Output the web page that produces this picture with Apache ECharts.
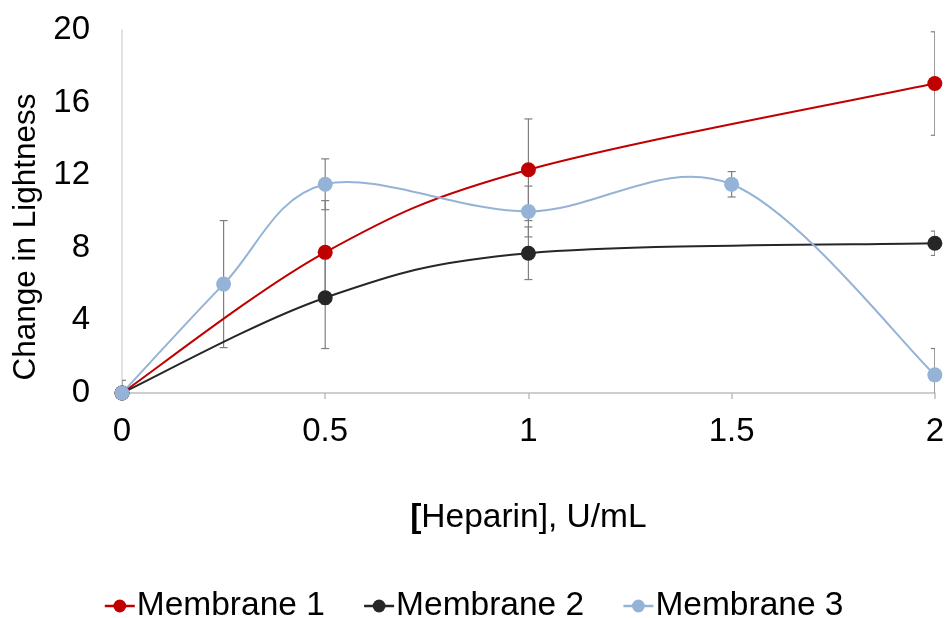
<!DOCTYPE html>
<html>
<head>
<meta charset="utf-8">
<script src="https://cdn.jsdelivr.net/npm/echarts@6/dist/echarts.min.js"></script>
<style>
  html, body { margin: 0; padding: 0; background: #fff; }
  #chart { width: 947px; height: 618px; }
</style>
</head>
<body>
<div id="chart"></div>
<script>
// Heparin concentrations (U/mL) and lightness change for each membrane
const xTicks = [0, 0.5, 1, 1.5, 2];
const yTicks = [0, 4, 8, 12, 16, 20];

const m1X = [0, 0.5, 1, 2];
const m1Y = [0, 7.75, 12.3, 17.05];
const m1Err = [0.7, 2.85, 2.8, 2.85];

const m2X = [0, 0.5, 1, 2];
const m2Y = [0, 5.25, 7.7, 8.25];
const m2Err = [0, 2.8, 1.45, 0.67];

const m3X = [0, 0.25, 0.5, 1, 1.5, 2];
const m3Y = [0, 6, 11.5, 10, 11.5, 1];
const m3Err = [0, 3.5, 1.4, 1.4, 0.7, 1.45];

const seriesNames = ['Membrane 1', 'Membrane 2', 'Membrane 3'];
const colors = ['#C00000', '#262626', '#95B3D7'];
const FONT = '"Liberation Sans", Arial, sans-serif';

const xsList = [m1X, m2X, m3X];
const ysList = [m1Y, m2Y, m3Y];
const errList = [m1Err, m2Err, m3Err];

function pairs(xs, ys) { return xs.map((x, i) => [x, ys[i]]); }
function errRows(xs, ys, es) {
  return xs.map((x, i) => [x, ys[i] - es[i], ys[i] + es[i]]).filter((r, i) => es[i] > 0);
}

// vertical error bar with caps
function renderErr(params, api) {
  const x = api.value(0);
  const lo = api.coord([x, api.value(1)]);
  const hi = api.coord([x, api.value(2)]);
  const half = 4;
  const style = { stroke: '#7f7f7f', lineWidth: 1.2 };
  return {
    type: 'group',
    children: [
      { type: 'line', shape: { x1: lo[0], y1: lo[1], x2: hi[0], y2: hi[1] }, style },
      { type: 'line', shape: { x1: hi[0] - half, y1: hi[1], x2: hi[0] + half, y2: hi[1] }, style },
      { type: 'line', shape: { x1: lo[0] - half, y1: lo[1], x2: lo[0] + half, y2: lo[1] }, style }
    ]
  };
}

// smoothed connector: cubic Bezier segments with Catmull-Rom style control points (tension 1/6)
function makeCurveRenderer(xs, ys, color) {
  return function (params, api) {
    const i = params.dataIndex;
    if (i >= xs.length - 1) return null;
    const pts = xs.map((x, k) => api.coord([x, ys[k]]));
    const p0 = pts[i - 1] || pts[i];
    const p1 = pts[i];
    const p2 = pts[i + 1];
    const p3 = pts[i + 2] || pts[i + 1];
    const f = 1 / 6;
    return {
      type: 'bezierCurve',
      shape: {
        x1: p1[0], y1: p1[1],
        x2: p2[0], y2: p2[1],
        cpx1: p1[0] + (p2[0] - p0[0]) * f, cpy1: p1[1] + (p2[1] - p0[1]) * f,
        cpx2: p2[0] - (p3[0] - p1[0]) * f, cpy2: p2[1] - (p3[1] - p1[1]) * f
      },
      style: { stroke: color, lineWidth: 2, fill: null }
    };
  };
}

const series = [];
errList.forEach((es, i) => {
  series.push({
    type: 'custom',
    renderItem: renderErr,
    data: errRows(xsList[i], ysList[i], es),
    clip: true,
    z: 1,
    silent: true,
    encode: { x: 0, y: [1, 2] }
  });
});
xsList.forEach((xs, i) => {
  series.push({
    type: 'custom',
    renderItem: makeCurveRenderer(xs, ysList[i], colors[i]),
    data: pairs(xs, ysList[i]),
    clip: true,
    z: 2,
    silent: true,
    encode: { x: 0, y: 1 }
  });
});
xsList.forEach((xs, i) => {
  series.push({
    name: seriesNames[i],
    type: 'line',
    data: pairs(xs, ysList[i]),
    symbol: 'circle',
    symbolSize: 15,
    z: 3,
    lineStyle: { color: colors[i], width: 2, opacity: 0 },
    itemStyle: { color: colors[i] }
  });
});

const chart = echarts.init(document.getElementById('chart'), null, { renderer: 'canvas' });
chart.setOption({
  animation: false,
  backgroundColor: '#fff',
  textStyle: { fontFamily: FONT },
  grid: { left: 122, right: 12, top: 30, bottom: 225, containLabel: false },
  legend: {
    data: seriesNames,
    top: 584,
    left: 'center',
    itemWidth: 30,
    itemHeight: 16,
    itemGap: 38,
    lineStyle: { opacity: 1, width: 2.5 },
    textStyle: { fontSize: 33.5, color: '#000', fontFamily: FONT, padding: [0, 0, 0, -3] }
  },
  xAxis: {
    type: 'value',
    min: xTicks[0],
    max: xTicks[xTicks.length - 1],
    interval: 0.5,
    name: '{b|[}Heparin], U/mL',
    nameLocation: 'middle',
    nameGap: 108,
    nameTextStyle: {
      fontSize: 33.5, color: '#000', fontFamily: FONT,
      rich: { b: { fontSize: 33.5, fontWeight: 'bold', color: '#000', fontFamily: FONT } }
    },
    axisLine: { show: true, lineStyle: { color: '#bfbfbf', width: 1.5 } },
    axisTick: { show: true, length: 6, lineStyle: { color: '#bfbfbf', width: 1.5 } },
    axisLabel: { fontSize: 33, color: '#000', margin: 22, fontFamily: FONT },
    splitLine: { show: false }
  },
  yAxis: {
    type: 'value',
    min: yTicks[0],
    max: yTicks[yTicks.length - 1],
    interval: 4,
    axisLine: { show: true, lineStyle: { color: '#d9d9d9', width: 1.5 } },
    axisTick: { show: false },
    axisLabel: { fontSize: 33, color: '#000', margin: 32, fontFamily: FONT },
    splitLine: { show: false }
  },
  graphic: [{
    type: 'text',
    x: 26,
    y: 237,
    rotation: Math.PI / 2,
    style: {
      text: 'Change in Lightness',
      fontSize: 31.5,
      fontFamily: FONT,
      fill: '#000',
      align: 'center',
      verticalAlign: 'middle'
    }
  }],
  series
});
</script>
</body>
</html>
